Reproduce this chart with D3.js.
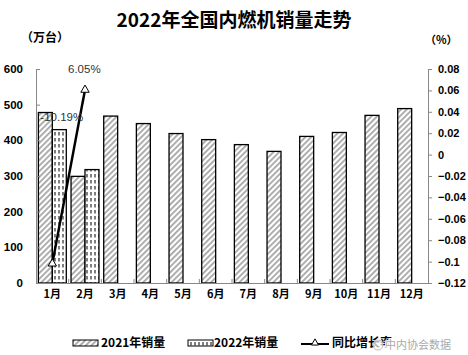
<!DOCTYPE html>
<html><head><meta charset="utf-8">
<script src="https://cdn.jsdelivr.net/npm/d3@7"></script>
<style>body{margin:0;background:#fff}svg{display:block}</style>
</head><body>
<script>
const months = ["1月","2月","3月","4月","5月","6月","7月","8月","9月","10月","11月","12月"];
const sales2021 = [478, 299, 468, 447, 419, 402, 388, 369, 411, 422, 470, 489];
const sales2022 = [430, 318, null, null, null, null, null, null, null, null, null, null];
const growth = [-0.1019, 0.0605];
const growthLabels = ["-10.19%", "6.05%"];
const leftTicks = [0,100,200,300,400,500,600];
const rightTicks = [0.08,0.06,0.04,0.02,0,-0.02,-0.04,-0.06,-0.08,-0.1,-0.12];
const seriesNames = ["2021年销量","2022年销量","同比增长率"];

const W=468,H=355;
const svg=d3.select("body").append("svg").attr("width",W).attr("height",H);
const numFont='"Liberation Sans","Noto Sans CJK SC",sans-serif';
const cjk='"Noto Sans CJK SC",sans-serif';
const defs=svg.append("defs");
const p1=defs.append("pattern").attr("id","diag").attr("patternUnits","userSpaceOnUse")
  .attr("width",4).attr("height",4).attr("patternTransform","rotate(45)");
p1.append("rect").attr("width",4).attr("height",4).attr("fill","#fff");
p1.append("rect").attr("width",1.8).attr("height",4).attr("fill","#a6a6a6");
const p2=defs.append("pattern").attr("id","dash").attr("patternUnits","userSpaceOnUse")
  .attr("width",4).attr("height",6).attr("x",1);
p2.append("rect").attr("width",4).attr("height",6).attr("fill","#fff");
p2.append("rect").attr("x",1.5).attr("y",0).attr("width",1).attr("height",3.5).attr("fill","#000");

const x0=36,x1=428,yTop=69,yBot=283;
const x=d3.scaleBand().domain(months).range([x0,x1]).paddingInner(0).paddingOuter(0);
const xs=d3.scaleBand().domain(["a","b"]).range([0,x.bandwidth()]).paddingInner(0).paddingOuter(0.17);
const yL=d3.scaleLinear().domain([0,600]).range([yBot,yTop]);
const yR=d3.scaleLinear().domain([-0.12,0.08]).range([yBot,yTop]);

// title
svg.append("text").attr("x",234).attr("y",27).attr("text-anchor","middle")
  .attr("font-family",cjk).attr("font-weight","bold").attr("font-size",19).text("2022年全国内燃机销量走势");
svg.append("text").attr("x",21).attr("y",42).attr("font-family",cjk).attr("font-weight","bold").attr("font-size",12).text("（万台）");
svg.append("text").attr("x",425).attr("y",44).attr("font-family",cjk).attr("font-weight","bold").attr("font-size",11).text("（%）");

// bars
const g=svg.append("g");
g.selectAll(".b1").data(months).join("rect")
  .attr("x",d=>x(d)+xs("a")).attr("width",xs.bandwidth())
  .attr("y",(d,i)=>yL(sales2021[i])).attr("height",(d,i)=>yL(0)-yL(sales2021[i]))
  .attr("fill","url(#diag)").attr("stroke","#000").attr("stroke-width",1.3);
g.selectAll(".b2").data(months.filter((d,i)=>sales2022[i]!=null)).join("rect")
  .attr("x",d=>x(d)+xs("b")).attr("width",xs.bandwidth())
  .attr("y",d=>yL(sales2022[months.indexOf(d)])).attr("height",d=>yL(0)-yL(sales2022[months.indexOf(d)]))
  .attr("fill","url(#dash)").attr("stroke","#000").attr("stroke-width",1.3);

// axes
const axL=svg.append("g").attr("transform",`translate(${x0},0)`)
  .call(d3.axisRight(yL).tickValues(leftTicks).tickSize(4).tickFormat(""));
axL.select(".domain").attr("stroke","#888");
axL.selectAll(".tick line").attr("stroke","#888");
svg.append("g").selectAll("text").data(leftTicks).join("text")
  .attr("x",23).attr("y",d=>yL(d)+4).attr("text-anchor","end")
  .attr("font-family",numFont).attr("font-weight","bold").attr("font-size",11.5).text(d=>d);

const axR=svg.append("g").attr("transform",`translate(${x1},0)`)
  .call(d3.axisRight(yR).tickValues(rightTicks).tickSize(4).tickFormat(""));
axR.select(".domain").attr("stroke","#888");
axR.selectAll(".tick line").attr("stroke","#888");
svg.append("g").selectAll("text").data(rightTicks).join("text")
  .attr("x",438).attr("y",d=>yR(d)+4)
  .attr("font-family",numFont).attr("font-weight","bold").attr("font-size",11).text(d=>d3.format("")(+d.toFixed(2)));

const axB=svg.append("g").attr("transform",`translate(0,${yBot})`)
  .call(d3.axisBottom(x).tickSize(0).tickFormat(""));
axB.select(".domain").attr("stroke","#888").attr("stroke-width",1.2);
svg.append("g").selectAll("line").data(months.slice(1)).join("line")
  .attr("x1",d=>x(d)).attr("x2",d=>x(d)).attr("y1",yBot).attr("y2",yBot-4).attr("stroke","#888");
svg.append("g").selectAll("text").data(months).join("text")
  .attr("x",d=>x(d)+x.bandwidth()/2).attr("y",298).attr("text-anchor","middle")
  .attr("font-family",cjk).attr("font-weight","bold").attr("font-size",11).text(d=>d);

// line
const lineData=growth.map((v,i)=>({m:months[i],v}));
const line=d3.line().x(d=>x(d.m)+x.bandwidth()/2).y(d=>yR(d.v));
svg.append("path").datum(lineData).attr("d",line).attr("fill","none").attr("stroke","#000").attr("stroke-width",2.5);
const tri=d3.symbol().type(d3.symbolTriangle).size(30);
svg.selectAll(".mk").data(lineData).join("path")
  .attr("transform",d=>`translate(${x(d.m)+x.bandwidth()/2},${yR(d.v)})`)
  .attr("d",tri).attr("fill","#fff").attr("stroke","#000").attr("stroke-width",1);
svg.append("text").attr("x",x(months[0])+x.bandwidth()/2-12).attr("y",121)
  .attr("font-family",numFont).attr("font-size",11.5).attr("fill","#333").text(growthLabels[0]);
svg.append("text").attr("x",68).attr("y",73)
  .attr("font-family",numFont).attr("font-size",11.5).attr("fill","#333").text(growthLabels[1]);

// legend
const ly=343;
const leg=svg.append("g");
leg.append("rect").attr("x",73).attr("y",ly-3).attr("width",25).attr("height",6).attr("fill","url(#diag)").attr("stroke","#000").attr("stroke-width",1);
leg.append("text").attr("x",101).attr("y",ly+4).attr("font-family",cjk).attr("font-weight","bold").attr("font-size",12).text(seriesNames[0]);
leg.append("rect").attr("x",188).attr("y",ly-3).attr("width",25).attr("height",6).attr("fill","url(#dash)").attr("stroke","#000").attr("stroke-width",1);
leg.append("text").attr("x",214).attr("y",ly+4).attr("font-family",cjk).attr("font-weight","bold").attr("font-size",12).text(seriesNames[1]);
leg.append("line").attr("x1",301).attr("x2",329).attr("y1",ly+1).attr("y2",ly+1).attr("stroke","#000").attr("stroke-width",2);
leg.append("path").attr("transform",`translate(315,${ly})`).attr("d",d3.symbol().type(d3.symbolTriangle).size(22)).attr("fill","#fff").attr("stroke","#000");
leg.append("text").attr("x",332).attr("y",ly+4).attr("font-family",cjk).attr("font-weight","bold").attr("font-size",12).text(seriesNames[2]);

// watermark
svg.append("circle").attr("cx",378).attr("cy",345).attr("r",5).attr("fill","#fff").attr("fill-opacity",0.7).attr("stroke","#bbb").attr("stroke-width",1);
svg.append("text").attr("x",385).attr("y",349).attr("font-family",cjk).attr("font-size",11).attr("fill","#aaa").attr("stroke","#fff").attr("stroke-width",2).attr("paint-order","stroke").text("中内协会数据");
</script>
</body></html>
